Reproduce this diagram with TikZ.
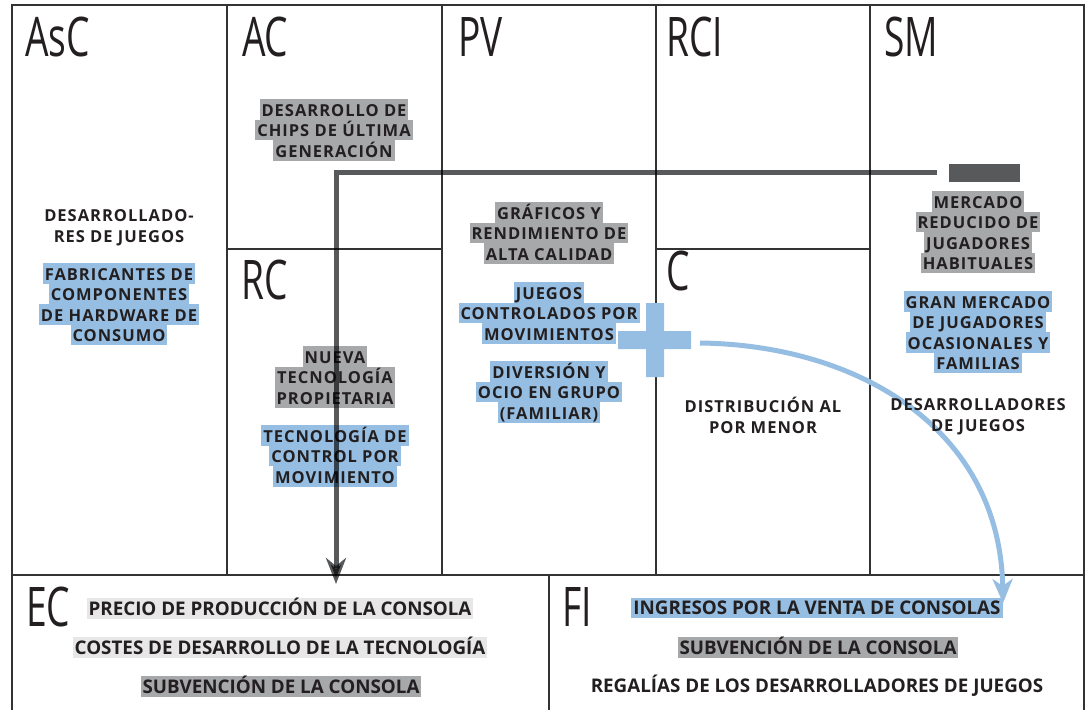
\documentclass[tikz,border=0pt]{standalone}
\usepackage{fontspec}
\setmainfont{Open Sans}
\newfontfamily\hdrfont[FakeStretch=0.68]{Open Sans}
\newfontfamily\txtfont[LetterSpace=6]{Open Sans}
\newfontfamily\cndfont{Open Sans}
\usetikzlibrary{arrows.meta}
\definecolor{ink}{HTML}{231F20}
\definecolor{frame}{HTML}{333333}
\definecolor{hlgray}{HTML}{A7A8AA}
\definecolor{hlblue}{HTML}{96BEE2}
\definecolor{hllight}{HTML}{E6E7E6}
\definecolor{bar}{HTML}{58595B}
\newcommand\lnstrut{\rule[-3.5pt]{0pt}{20.5pt}}
\newcommand\pl[1]{\lnstrut#1}
\newcommand\hlg[1]{{\setlength\fboxsep{0pt}\colorbox{hlgray}{\lnstrut\hspace{2pt}#1\hspace{2pt}}}}
\newcommand\hlb[1]{{\setlength\fboxsep{0pt}\colorbox{hlblue}{\lnstrut\hspace{2pt}#1\hspace{2pt}}}}
\newcommand\hll[1]{{\setlength\fboxsep{0pt}\colorbox{hllight}{\lnstrut\hspace{2pt}#1\hspace{2pt}}}}
\begin{document}
\begin{tikzpicture}[x=1pt,y=-1pt,line join=miter,
	cell/.style={draw=frame,line width=1.3pt},
	hdr/.style={font=\hdrfont\fontsize{54.6}{60}\selectfont,anchor=base west,inner sep=0pt,text=ink},
	txt/.style={font=\txtfont\bfseries\fontsize{16.5}{20.5}\selectfont,align=center,inner sep=0pt,text=ink},
	low/.style={font=\cndfont\bfseries\fontsize{18.8}{21}\selectfont,inner sep=0pt,text=ink},
	darrow/.style={draw=bar,line width=5pt,-{Stealth[length=26pt,width=20pt,inset=8pt]}},
	barrow/.style={draw=hlblue,line width=5pt,-{Stealth[length=24pt,width=20pt,inset=7pt]}}]
	\useasboundingbox (0,0) rectangle (1086,710);
	% lienzo
	\draw[cell] (12,710) -- (12,5) -- (1084,5) -- (1084,710);
	\draw[cell] (12,575) -- (1084,575);
	\foreach \x in {227,442,656,870} \draw[cell] (\x,5) -- (\x,575);
	\draw[cell] (227,249) -- (442,249) (656,249) -- (870,249);
	\draw[cell] (549,575) -- (549,710);
	% titulos
	\node[hdr] (asc) at (25,56) {AsC};
	\node[hdr] (ac) at (242,56) {AC};
	\node[hdr] (pv) at (458,56) {PV};
	\node[hdr] (rci) at (666,56) {RCI};
	\node[hdr] (sm) at (884,56) {SM};
	\node[hdr] (rc) at (241,299) {RC};
	\node[hdr] (c) at (666,290) {C};
	\node[hdr] (ec) at (26,626) {EC};
	\node[hdr] (fi) at (562,626) {FI};
	% flecha azul
	\fill[hlblue] (646,303) rectangle (664,377) (618,331) rectangle (691,349);
	\coordinate (plusr) at (700,343);
	\coordinate (fitop) at (1003,603);
	\draw[barrow] (plusr) .. controls (860,345) and (1000,430) .. (fitop);
	% textos
	\node[txt] (aliados) at (119,225) {\pl{DESARROLLADO-}\\\pl{RES DE JUEGOS}};
	\node[txt] (fabric) at (119,304) {\hlb{FABRICANTES DE}\\\hlb{COMPONENTES}\\\hlb{DE HARDWARE DE}\\\hlb{CONSUMO}};
	\node[txt] (chips) at (334,130) {\hlg{DESARROLLO DE}\\\hlg{CHIPS DE ÚLTIMA}\\\hlg{GENERACIÓN}};
	\node[txt] (propia) at (335,377) {\hlg{NUEVA}\\\hlg{TECNOLOGÍA}\\\hlg{PROPIETARIA}};
	\node[txt] (control) at (335,456) {\hlb{TECNOLOGÍA DE}\\\hlb{CONTROL POR}\\\hlb{MOVIMIENTO}};
	\node[txt] (graficos) at (549,233) {\hlg{GRÁFICOS Y}\\\hlg{RENDIMIENTO DE}\\\hlg{ALTA CALIDAD}};
	\node[txt] (juegos) at (549,313) {\hlb{JUEGOS}\\\hlb{CONTROLADOS POR}\\\hlb{MOVIMIENTOS}};
	\node[txt] (ocio) at (549,392) {\hlb{DIVERSIÓN Y}\\\hlb{OCIO EN GRUPO}\\\hlb{(FAMILIAR)}};
	\node[txt] (tiendas) at (763,416) {\pl{DISTRIBUCIÓN AL}\\\pl{POR MENOR}};
	\node[txt] (habit) at (978,232) {\hlg{MERCADO}\\\hlg{REDUCIDO DE}\\\hlg{JUGADORES}\\\hlg{HABITUALES}};
	\node[txt] (ocasion) at (978,332) {\hlb{GRAN MERCADO}\\\hlb{DE JUGADORES}\\\hlb{OCASIONALES Y}\\\hlb{FAMILIAS}};
	\node[txt] (desarr) at (978,414) {\pl{DESARROLLADORES}\\\pl{DE JUEGOS}};
	\node[low] (precio) at (280,608) {\hll{PRECIO DE PRODUCCIÓN DE LA CONSOLA}};
	\node[low] (costes) at (280,647) {\hll{COSTES DE DESARROLLO DE LA TECNOLOGÍA}};
	\node[low] (subvec) at (281,686) {\hlg{SUBVENCIÓN DE LA CONSOLA}};
	\node[low] (ventas) at (817,608) {\hlb{INGRESOS POR LA VENTA DE CONSOLAS}};
	\node[low] (subvfi) at (818,647) {\hlg{SUBVENCIÓN DE LA CONSOLA}};
	\node[low] (regal) at (817,686) {\pl{REGALÍAS DE LOS DESARROLLADORES DE JUEGOS}};
	% flecha gris
	\node[fill=bar,minimum width=71pt,minimum height=18pt,inner sep=0pt] (smbar) at (984.5,172.5) {};
	\coordinate (ectop) at (336,584);
	\begin{scope}[blend mode=multiply]
	\draw[darrow] ([xshift=-12pt]smbar.west) -| (ectop);
	\end{scope}
\end{tikzpicture}
\end{document}
